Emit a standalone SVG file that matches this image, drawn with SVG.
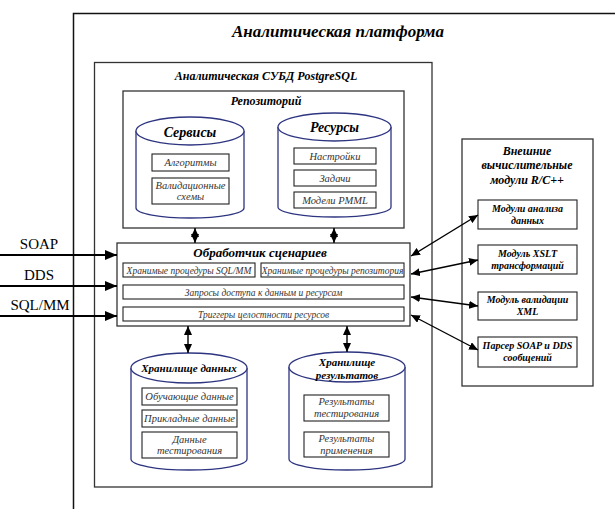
<svg xmlns="http://www.w3.org/2000/svg" width="615" height="509" viewBox="0 0 615 509">
  <defs>
    <style>
      text { font-family: 'Liberation Serif', 'DejaVu Serif', serif; }
      .frame { fill: #ffffff; stroke: #111111; stroke-width: 1.5; }
      .box { fill: #ffffff; stroke: #333333; stroke-width: 1.3; }
      .item { fill: #ffffff; stroke: #222222; stroke-width: 1.1; }
      .cyl { fill: #ffffff; stroke: #2e3580; stroke-width: 1.3; }
      .title { font-weight: bold; font-style: italic; fill: #000000; text-anchor: middle; }
      .txt { font-style: italic; fill: #333333; text-anchor: middle; font-size: 10.5px; }
      .htxt { font-style: italic; fill: #333333; text-anchor: middle; font-size: 9.5px; }
      .mod { font-weight: bold; font-style: italic; fill: #000000; text-anchor: middle; font-size: 10px; }
      .io { fill: #000000; text-anchor: middle; font-size: 15px; }
      .in { stroke: #000000; stroke-width: 2.2; fill: none; marker-end: url(#bigHead); }
      .dbl { stroke: #000000; stroke-width: 1.4; fill: none; marker-start: url(#smallHead); marker-end: url(#smallHead); }
    </style>
    <marker id="bigHead" markerUnits="userSpaceOnUse" markerWidth="12" markerHeight="10" refX="12" refY="5" orient="auto">
      <path d="M0,0 L12,5 L0,10 z" fill="#000000"/>
    </marker>
    <marker id="smallHead" markerUnits="userSpaceOnUse" markerWidth="9" markerHeight="8" refX="9" refY="4" orient="auto-start-reverse">
      <path d="M0,0 L9,4 L0,8 z" fill="#000000"/>
    </marker>
  </defs>

  <!-- analytics platform frame (runs off the page to the right and bottom) -->
  <g id="platform">
    <rect class="frame" x="73.5" y="13.5" width="560" height="520"/>
    <text class="title" x="338" y="37" font-size="17">Аналитическая платформа</text>
  </g>

  <!-- DBMS container -->
  <g id="dbms">
    <rect class="box" x="94.5" y="62.5" width="337.5" height="424.5" stroke-width="1.5"/>
    <text class="title" x="266" y="80" font-size="12">Аналитическая СУБД PostgreSQL</text>
  </g>

  <!-- repository -->
  <g id="repository">
    <rect class="box" x="123" y="91" width="281" height="137"/>
    <text class="title" x="266" y="105" font-size="12">Репозиторий</text>
  </g>

  <g id="services">
    <path class="cyl" d="M136,131 L136,208 A54,10 0 0 0 244,208 L244,131"/>
    <ellipse class="cyl" cx="190" cy="131" rx="54" ry="14"/>
    <text class="title" x="190" y="137" font-size="14">Сервисы</text>
    <rect class="item" x="152" y="154" width="77" height="17"/>
    <text class="txt" x="190.5" y="166">Алгоритмы</text>
    <rect class="item" x="152" y="178" width="77" height="26"/>
    <text class="txt" x="190.5" y="189">Валидационные</text>
    <text class="txt" x="190.5" y="200">схемы</text>
  </g>

  <g id="resources">
    <path class="cyl" d="M278,127 L278,207 A56.5,10 0 0 0 391,207 L391,127"/>
    <ellipse class="cyl" cx="334.5" cy="127" rx="56.5" ry="14"/>
    <text class="title" x="334.5" y="132" font-size="14">Ресурсы</text>
    <rect class="item" x="294" y="148" width="82" height="16"/>
    <text class="txt" x="335" y="159.5">Настройки</text>
    <rect class="item" x="294" y="170" width="82" height="16"/>
    <text class="txt" x="335" y="181.5">Задачи</text>
    <rect class="item" x="294" y="192" width="82" height="16"/>
    <text class="txt" x="335" y="203.5">Модели PMML</text>
  </g>

  <!-- scenario handler -->
  <g id="handler">
    <rect class="box" x="117" y="243" width="293" height="83" stroke="#222222" stroke-width="1.5"/>
    <text class="title" x="260" y="257" font-size="13">Обработчик сценариев</text>
    <rect class="item" x="123" y="263" width="132" height="14" stroke="#555555"/>
    <text class="htxt" x="189" y="273.5">Хранимые процедуры SQL/MM</text>
    <rect class="item" x="261" y="263" width="143" height="14" stroke="#555555"/>
    <text class="htxt" x="332.5" y="273.5">Хранимые процедуры репозитория</text>
    <rect class="item" x="123" y="285" width="281" height="14" stroke="#555555"/>
    <text class="htxt" x="263.5" y="295.5">Запросы доступа к данным и ресурсам</text>
    <rect class="item" x="123" y="307" width="281" height="14" stroke="#555555"/>
    <text class="htxt" x="263.5" y="317.5">Триггеры целостности ресурсов</text>
  </g>

  <g id="data-store">
    <path class="cyl" d="M131,368 L131,459 A58,11 0 0 0 247,459 L247,368"/>
    <ellipse class="cyl" cx="189" cy="368" rx="58" ry="15"/>
    <text class="title" x="189" y="372" font-size="11">Хранилище данных</text>
    <rect class="item" x="142" y="388" width="95" height="17"/>
    <text class="txt" x="189.5" y="400">Обучающие данные</text>
    <rect class="item" x="142" y="410" width="95" height="17"/>
    <text class="txt" x="189.5" y="422">Прикладные данные</text>
    <rect class="item" x="142" y="432" width="95" height="26"/>
    <text class="txt" x="189.5" y="443">Данные</text>
    <text class="txt" x="189.5" y="454">тестирования</text>
  </g>

  <g id="results-store">
    <path class="cyl" d="M289,367 L289,459 A58,11 0 0 0 405,459 L405,367"/>
    <ellipse class="cyl" cx="347" cy="367" rx="58" ry="15"/>
    <text class="title" x="347" y="366" font-size="11">Хранилище</text>
    <text class="title" x="347" y="379" font-size="11">результатов</text>
    <rect class="item" x="304" y="395" width="85" height="26"/>
    <text class="txt" x="346.5" y="405">Результаты</text>
    <text class="txt" x="346.5" y="417">тестирования</text>
    <rect class="item" x="304" y="432" width="85" height="25"/>
    <text class="txt" x="346.5" y="442">Результаты</text>
    <text class="txt" x="346.5" y="454">применения</text>
  </g>

  <!-- external computing modules -->
  <g id="external">
    <rect class="box" x="462" y="139" width="131" height="247" stroke="#222222"/>
    <text class="title" x="527" y="155" font-size="12">Внешние</text>
    <text class="title" x="527" y="169" font-size="12">вычислительные</text>
    <text class="title" x="527" y="184" font-size="12">модули R/C++</text>
  </g>

  <g id="mod-analysis">
    <rect class="item" x="478" y="200" width="99" height="29" stroke="#111111" stroke-width="1.4"/>
    <text class="mod" x="527.5" y="212">Модули анализа</text>
    <text class="mod" x="527.5" y="224">данных</text>
  </g>
  <g id="mod-xslt">
    <rect class="item" x="478" y="245" width="99" height="29" stroke="#111111" stroke-width="1.4"/>
    <text class="mod" x="527.5" y="257">Модуль XSLT</text>
    <text class="mod" x="527.5" y="269">трансформаций</text>
  </g>
  <g id="mod-validation">
    <rect class="item" x="478" y="292" width="99" height="28" stroke="#111111" stroke-width="1.4"/>
    <text class="mod" x="527.5" y="303">Модуль валидации</text>
    <text class="mod" x="527.5" y="315">XML</text>
  </g>
  <g id="mod-parser">
    <rect class="item" x="478" y="337" width="99" height="30" stroke="#111111" stroke-width="1.4"/>
    <text class="mod" x="527.5" y="349">Парсер SOAP и DDS</text>
    <text class="mod" x="527.5" y="361">сообщений</text>
  </g>

  <!-- input protocol labels -->
  <g id="inputs">
    <text class="io" x="39" y="249">SOAP</text>
    <text class="io" x="39" y="280">DDS</text>
    <text class="io" x="40" y="310">SQL/MM</text>
  </g>

  <!-- connectors -->
  <g id="connectors">
    <line class="in" x1="0" y1="255" x2="117" y2="255"/>
    <line class="in" x1="0" y1="286" x2="117" y2="286"/>
    <line class="in" x1="0" y1="316" x2="117" y2="316"/>

    <line class="dbl" x1="195" y1="228" x2="195" y2="243"/>
    <line class="dbl" x1="334" y1="228" x2="334" y2="243"/>
    <line class="dbl" x1="188" y1="326" x2="188" y2="353"/>
    <line class="dbl" x1="347" y1="326" x2="347" y2="352"/>

    <line class="dbl" x1="411" y1="256" x2="478" y2="215"/>
    <line class="dbl" x1="411" y1="274" x2="478" y2="260"/>
    <line class="dbl" x1="411" y1="297" x2="478" y2="306"/>
    <line class="dbl" x1="411" y1="315" x2="478" y2="350"/>
  </g>
</svg>
